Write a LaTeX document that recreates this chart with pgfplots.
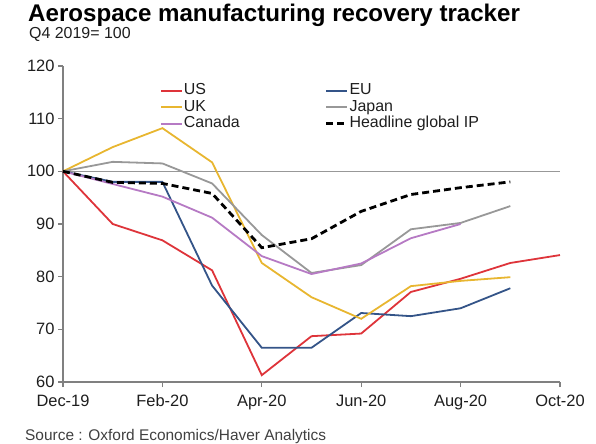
\documentclass[border=0pt]{standalone}
\usepackage{pgfplots}
\pgfplotsset{compat=1.18}
\usepackage{fontspec}
\setmainfont{Liberation Sans}
\definecolor{cUS}{RGB}{222,52,58}
\definecolor{cEU}{RGB}{52,84,136}
\definecolor{cUK}{RGB}{232,182,48}
\definecolor{cJP}{RGB}{152,152,152}
\definecolor{cCA}{RGB}{182,122,196}
\definecolor{axgray}{RGB}{128,128,128}
\definecolor{txt}{RGB}{30,30,30}
\begin{document}
\begin{tikzpicture}
\path[use as bounding box] (-63bp,-62bp) rectangle (533bp,382bp);
\begin{axis}[
  at={(0,0)}, anchor=south west,
  scale only axis, width=497bp, height=316bp,
  xmin=0, xmax=10, ymin=60, ymax=120,
  axis x line*=bottom, axis y line*=left,
  axis line style={axgray, line width=1.2bp, -},
  xtick={0,2,4,6,8,10},
  xticklabels={Dec-19,Feb-20,Apr-20,Jun-20,Aug-20,Oct-20},
  ytick={60,70,80,90,100,110,120},
  tick align=outside,
  major tick length=5bp,
  tick style={axgray, line width=1.2bp},
  /pgf/number format/assume math mode=true,
  ticklabel style={font=\fontsize{16.5}{18}\selectfont, text=txt},
  xticklabel style={yshift=-4bp, text height=12bp, text depth=3.5bp},
  clip=false,
  legend columns=2,
  legend style={draw=none, fill=none, at={(rel axis cs:0.189,0.955)}, anchor=north west,
    font=\fontsize{16}{16}\selectfont, text=txt,
    nodes={inner xsep=1bp, inner ysep=1bp, text height=11.5bp, text depth=3bp},
    /tikz/column 2/.style={column sep=84bp}},
  legend cell align=left,
  legend image code/.code={\draw[#1] (0bp,0bp) -- (21bp,0bp);},
]
\addplot[cJP, line width=1.6bp, forget plot] coordinates {(0,100) (10,100)};
\addplot[cUS, line width=1.8bp] coordinates {
(0,100) (1,90) (2,86.9) (3,81.2) (4,61.3) (5,68.7) (6,69.2) (7,77.1) (8,79.6) (9,82.6) (10,84.1)};
\addlegendentry{US}
\addplot[cEU, line width=1.8bp] coordinates {
(0,100) (1,98) (2,98) (3,78.3) (4,66.5) (5,66.5) (6,73.1) (7,72.5) (8,74.0) (9,77.8)};
\addlegendentry{EU}
\addplot[cUK, line width=1.8bp] coordinates {
(0,100) (1,104.6) (2,108.2) (3,101.7) (4,82.6) (5,76.1) (6,72.0) (7,78.2) (8,79.2) (9,79.9)};
\addlegendentry{UK}
\addplot[cJP, line width=1.8bp] coordinates {
(0,100) (1,101.8) (2,101.5) (3,97.7) (4,87.9) (5,80.7) (6,82.2) (7,89.0) (8,90.2) (9,93.4)};
\addlegendentry{Japan}
\addplot[cCA, line width=1.8bp] coordinates {
(0,100) (1,97.6) (2,95.2) (3,91.2) (4,83.9) (5,80.5) (6,82.5) (7,87.3) (8,90.0)};
\addlegendentry{Canada}
\addplot[black, line width=2.8bp, dash pattern=on 7bp off 4bp] coordinates {
(0,100) (1,97.9) (2,97.7) (3,95.8) (4,85.5) (5,87.2) (6,92.4) (7,95.6) (8,96.9) (9,98.0)};
\addlegendentry{Headline global IP}
\end{axis}
\node[anchor=base west, inner sep=0, font=\fontsize{24.2}{24}\selectfont\bfseries, text=black] at (-35bp,360.5bp) {Aerospace manufacturing recovery tracker};
\node[anchor=base west, inner sep=0, font=\fontsize{16}{16}\selectfont, text=txt] at (-34bp,343bp) {Q4 2019= 100};
\node[anchor=base west, inner sep=0, font=\fontsize{15.5}{15}\selectfont, text={rgb,255:red,64;green,64;blue,64}] at (-38bp,-58bp) {Source : Oxford Economics/Haver Analytics};
\end{tikzpicture}
\end{document}
